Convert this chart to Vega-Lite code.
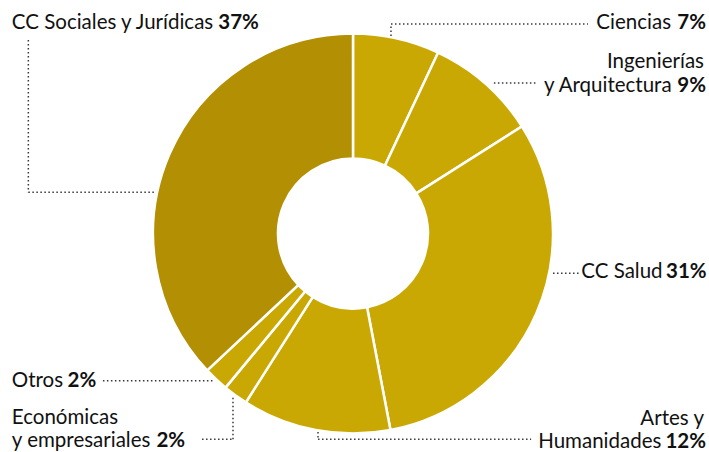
{
  "$schema": "https://vega.github.io/schema/vega-lite/v6.json",
  "width": 709,
  "height": 452,
  "autosize": "none",
  "padding": 0,
  "background": "white",
  "config": {"view": {"stroke": null}},
  "datasets": {
    "sectores": [
      {"area": "Ciencias", "pct": 7, "orden": 1},
      {"area": "Ingenierías y Arquitectura", "pct": 9, "orden": 2},
      {"area": "CC Salud", "pct": 31, "orden": 3},
      {"area": "Artes y Humanidades", "pct": 12, "orden": 4},
      {"area": "Económicas y empresariales", "pct": 2, "orden": 5},
      {"area": "Otros", "pct": 2, "orden": 6},
      {"area": "CC Sociales y Jurídicas", "pct": 37, "orden": 7}
    ],
    "guias": [
      {"x": -161.5, "y": 96.3, "x2": -161.5, "y2": 20.6},
      {"x": -161.5, "y": 20.6, "x2": -98.5, "y2": 20.6},
      {"x": 18.9, "y": 98.3, "x2": 18.9, "y2": 104.2},
      {"x": 18.9, "y": 104.2, "x2": 116.9, "y2": 104.2},
      {"x": 70.1, "y": 74.9, "x2": 92.0, "y2": 74.9},
      {"x": 99.5, "y": -19.7, "x2": 112.4, "y2": -19.7},
      {"x": -17.4, "y": -98.8, "x2": -17.4, "y2": -102.4},
      {"x": -17.4, "y": -102.4, "x2": 88.6, "y2": -102.4},
      {"x": -124.4, "y": -73.2, "x2": -69.2, "y2": -73.2},
      {"x": -75.1, "y": -102.4, "x2": -59.7, "y2": -102.4},
      {"x": -59.7, "y": -102.4, "x2": -59.7, "y2": -80.8}
    ],
    "etiquetas": [
      {"texto": "CC Sociales y Jurídicas", "x": -169.7, "y": 101.7, "tipo": "nombre", "lado": "izq"},
      {"texto": "Otros", "x": -169.7, "y": -76.4, "tipo": "nombre", "lado": "izq"},
      {"texto": "Económicas", "x": -169.7, "y": -94.8, "tipo": "nombre", "lado": "izq"},
      {"texto": "y empresariales", "x": -169.7, "y": -106.0, "tipo": "nombre", "lado": "izq"},
      {"texto": "37%", "x": -67.0, "y": 101.7, "tipo": "pct", "lado": "izq"},
      {"texto": "2%", "x": -142.0, "y": -76.4, "tipo": "pct", "lado": "izq"},
      {"texto": "2%", "x": -97.8, "y": -106.0, "tipo": "pct", "lado": "izq"},
      {"texto": "Ciencias", "x": 158.2, "y": 101.6, "tipo": "nombre", "lado": "der"},
      {"texto": "Ingenierías", "x": 174.6, "y": 82.3, "tipo": "nombre", "lado": "der"},
      {"texto": "y Arquitectura", "x": 158.5, "y": 70.6, "tipo": "nombre", "lado": "der"},
      {"texto": "CC Salud", "x": 154.0, "y": -22.1, "tipo": "nombre", "lado": "der"},
      {"texto": "Artes y", "x": 174.6, "y": -95.3, "tipo": "nombre", "lado": "der"},
      {"texto": "Humanidades", "x": 153.4, "y": -106.7, "tipo": "nombre", "lado": "der"},
      {"texto": "7%", "x": 175.6, "y": 101.6, "tipo": "pct", "lado": "der"},
      {"texto": "9%", "x": 175.6, "y": 70.6, "tipo": "pct", "lado": "der"},
      {"texto": "31%", "x": 175.9, "y": -22.1, "tipo": "pct", "lado": "der"},
      {"texto": "12%", "x": 175.6, "y": -106.7, "tipo": "pct", "lado": "der"}
    ]
  },
  "layer": [
    {
      "data": {"name": "sectores"},
      "mark": {"type": "arc", "outerRadius": 200, "innerRadius": 75, "stroke": "white", "strokeWidth": 2.5},
      "encoding": {
        "x": {"datum": 0, "type": "quantitative", "scale": {"domain": [-175.6, 177.1], "nice": false, "zero": false}, "axis": null},
        "y": {"datum": 0, "type": "quantitative", "scale": {"domain": [-108.7, 116.2], "nice": false, "zero": false}, "axis": null},
        "theta": {"field": "pct", "type": "quantitative", "stack": true},
        "order": {"field": "orden", "type": "quantitative"},
        "color": {
          "field": "area", "type": "nominal", "legend": null,
          "scale": {
            "domain": ["Ciencias", "Ingenierías y Arquitectura", "CC Salud", "Artes y Humanidades", "Económicas y empresariales", "Otros", "CC Sociales y Jurídicas"],
            "range": ["#CAA804", "#CAA804", "#CAA804", "#CAA804", "#CAA804", "#CAA804", "#B38F03"]
          }
        }
      }
    },
    {
      "data": {"name": "guias"},
      "mark": {"type": "rule", "color": "#3a3a3a", "strokeWidth": 1.5, "strokeDash": [1.5, 2.5]},
      "encoding": {
        "x": {"field": "x", "type": "quantitative", "scale": {"domain": [-175.6, 177.1], "nice": false, "zero": false}, "axis": null},
        "y": {"field": "y", "type": "quantitative", "scale": {"domain": [-108.7, 116.2], "nice": false, "zero": false}, "axis": null},
        "x2": {"field": "x2"},
        "y2": {"field": "y2"}
      }
    },
    {
      "data": {"name": "etiquetas"},
      "transform": [{"filter": "datum.tipo === 'nombre' && datum.lado === 'izq'"}],
      "mark": {"type": "text", "font": "Lato", "fontSize": 20.5, "fontWeight": "normal", "align": "left", "baseline": "alphabetic", "color": "#111111"},
      "encoding": {
        "x": {"field": "x", "type": "quantitative", "scale": {"domain": [-175.6, 177.1], "nice": false, "zero": false}, "axis": null},
        "y": {"field": "y", "type": "quantitative", "scale": {"domain": [-108.7, 116.2], "nice": false, "zero": false}, "axis": null},
        "text": {"field": "texto"}
      }
    },
    {
      "data": {"name": "etiquetas"},
      "transform": [{"filter": "datum.tipo === 'pct' && datum.lado === 'izq'"}],
      "mark": {"type": "text", "font": "Lato", "fontSize": 20.5, "fontWeight": "bold", "align": "left", "baseline": "alphabetic", "color": "#111111"},
      "encoding": {
        "x": {"field": "x", "type": "quantitative", "scale": {"domain": [-175.6, 177.1], "nice": false, "zero": false}, "axis": null},
        "y": {"field": "y", "type": "quantitative", "scale": {"domain": [-108.7, 116.2], "nice": false, "zero": false}, "axis": null},
        "text": {"field": "texto"}
      }
    },
    {
      "data": {"name": "etiquetas"},
      "transform": [{"filter": "datum.tipo === 'nombre' && datum.lado === 'der'"}],
      "mark": {"type": "text", "font": "Lato", "fontSize": 20.5, "fontWeight": "normal", "align": "right", "baseline": "alphabetic", "color": "#111111"},
      "encoding": {
        "x": {"field": "x", "type": "quantitative", "scale": {"domain": [-175.6, 177.1], "nice": false, "zero": false}, "axis": null},
        "y": {"field": "y", "type": "quantitative", "scale": {"domain": [-108.7, 116.2], "nice": false, "zero": false}, "axis": null},
        "text": {"field": "texto"}
      }
    },
    {
      "data": {"name": "etiquetas"},
      "transform": [{"filter": "datum.tipo === 'pct' && datum.lado === 'der'"}],
      "mark": {"type": "text", "font": "Lato", "fontSize": 20.5, "fontWeight": "bold", "align": "right", "baseline": "alphabetic", "color": "#111111"},
      "encoding": {
        "x": {"field": "x", "type": "quantitative", "scale": {"domain": [-175.6, 177.1], "nice": false, "zero": false}, "axis": null},
        "y": {"field": "y", "type": "quantitative", "scale": {"domain": [-108.7, 116.2], "nice": false, "zero": false}, "axis": null},
        "text": {"field": "texto"}
      }
    }
  ]
}
